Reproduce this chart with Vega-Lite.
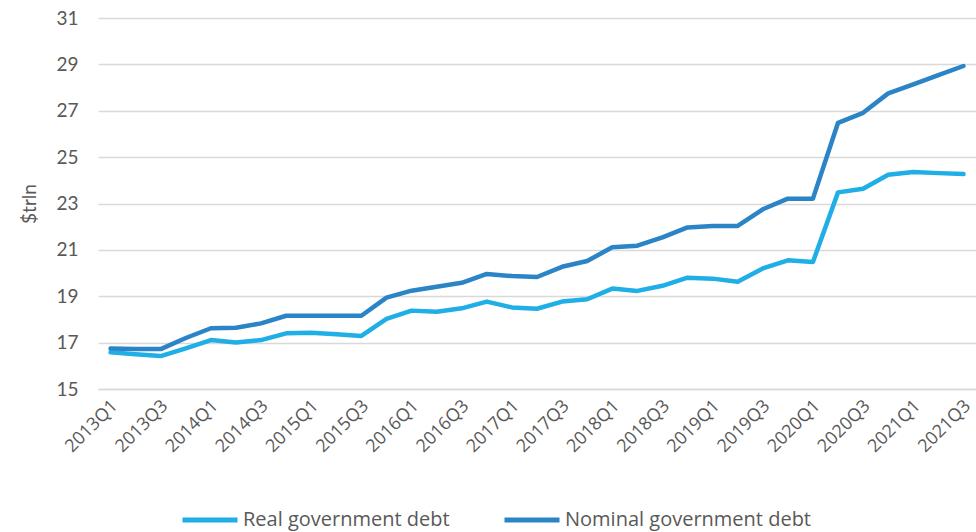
{
  "$schema": "https://vega.github.io/schema/vega-lite/v6.json",
  "width": 878,
  "height": 371,
  "autosize": {"type": "none"},
  "padding": {"left": 98, "top": 18, "right": 0, "bottom": 143},
  "background": "white",
  "config": {
    "view": {"stroke": null},
    "font": "Lato"
  },
  "datasets": {
    "debt": [
      {"q": "2013Q1", "Real government debt": 16.58, "Nominal government debt": 16.75},
      {"q": "2013Q2", "Real government debt": 16.5, "Nominal government debt": 16.73},
      {"q": "2013Q3", "Real government debt": 16.42, "Nominal government debt": 16.72},
      {"q": "2013Q4", "Real government debt": 16.75, "Nominal government debt": 17.2},
      {"q": "2014Q1", "Real government debt": 17.11, "Nominal government debt": 17.62},
      {"q": "2014Q2", "Real government debt": 17.01, "Nominal government debt": 17.64},
      {"q": "2014Q3", "Real government debt": 17.11, "Nominal government debt": 17.83},
      {"q": "2014Q4", "Real government debt": 17.4, "Nominal government debt": 18.16},
      {"q": "2015Q1", "Real government debt": 17.43, "Nominal government debt": 18.16},
      {"q": "2015Q2", "Real government debt": 17.36, "Nominal government debt": 18.16},
      {"q": "2015Q3", "Real government debt": 17.29, "Nominal government debt": 18.16},
      {"q": "2015Q4", "Real government debt": 18.02, "Nominal government debt": 18.94},
      {"q": "2016Q1", "Real government debt": 18.38, "Nominal government debt": 19.24},
      {"q": "2016Q2", "Real government debt": 18.33, "Nominal government debt": 19.41},
      {"q": "2016Q3", "Real government debt": 18.48, "Nominal government debt": 19.58},
      {"q": "2016Q4", "Real government debt": 18.77, "Nominal government debt": 19.96},
      {"q": "2017Q1", "Real government debt": 18.52, "Nominal government debt": 19.87},
      {"q": "2017Q2", "Real government debt": 18.46, "Nominal government debt": 19.83},
      {"q": "2017Q3", "Real government debt": 18.77, "Nominal government debt": 20.27},
      {"q": "2017Q4", "Real government debt": 18.87, "Nominal government debt": 20.52},
      {"q": "2018Q1", "Real government debt": 19.33, "Nominal government debt": 21.11},
      {"q": "2018Q2", "Real government debt": 19.23, "Nominal government debt": 21.18},
      {"q": "2018Q3", "Real government debt": 19.45, "Nominal government debt": 21.54},
      {"q": "2018Q4", "Real government debt": 19.8, "Nominal government debt": 21.97},
      {"q": "2019Q1", "Real government debt": 19.76, "Nominal government debt": 22.03},
      {"q": "2019Q2", "Real government debt": 19.63, "Nominal government debt": 22.03},
      {"q": "2019Q3", "Real government debt": 20.2, "Nominal government debt": 22.75},
      {"q": "2019Q4", "Real government debt": 20.55, "Nominal government debt": 23.21},
      {"q": "2020Q1", "Real government debt": 20.48, "Nominal government debt": 23.21},
      {"q": "2020Q2", "Real government debt": 23.48, "Nominal government debt": 26.48},
      {"q": "2020Q3", "Real government debt": 23.64, "Nominal government debt": 26.91},
      {"q": "2020Q4", "Real government debt": 24.24, "Nominal government debt": 27.75},
      {"q": "2021Q1", "Real government debt": 24.36, "Nominal government debt": 28.14},
      {"q": "2021Q2", "Real government debt": 24.31, "Nominal government debt": 28.54},
      {"q": "2021Q3", "Real government debt": 24.27, "Nominal government debt": 28.93}
    ]
  },
  "data": {"name": "debt"},
  "transform": [
    {"fold": ["Real government debt", "Nominal government debt"], "as": ["series", "value"]}
  ],
  "mark": {"type": "line", "strokeWidth": 4.5, "strokeCap": "round", "strokeJoin": "round"},
  "encoding": {
    "x": {
      "field": "q",
      "type": "ordinal",
      "sort": null,
      "scale": {"type": "point", "padding": 0.5},
      "axis": {
        "title": null,
        "labelAngle": -45,
        "labelAlign": "right",
        "labelBaseline": "middle",
        "labelFont": "Open Sans",
        "labelFontSize": 18,
        "labelColor": "#595959",
        "labelOverlap": false,
        "labelPadding": 14,
        "labelOffset": 4,
        "labelExpr": "test(/Q[13]$/, datum.value) ? datum.value : ''",
        "ticks": false,
        "domain": true,
        "domainColor": "#D9D9D9",
        "domainWidth": 1.5,
        "grid": false
      }
    },
    "y": {
      "field": "value",
      "type": "quantitative",
      "scale": {"domain": [15, 31], "nice": false, "zero": false},
      "axis": {
        "title": "$trln",
        "titleFontSize": 19,
        "titleFontWeight": "normal",
        "titleColor": "#595959",
        "titlePadding": 16,
        "values": [15, 17, 19, 21, 23, 25, 27, 29, 31],
        "labelFontSize": 19,
        "labelColor": "#595959",
        "labelPadding": 20,
        "ticks": false,
        "domain": false,
        "grid": true,
        "gridColor": "#D9D9D9",
        "gridWidth": 1.5
      }
    },
    "color": {
      "field": "series",
      "type": "nominal",
      "sort": ["Real government debt", "Nominal government debt"],
      "scale": {"domain": ["Real government debt", "Nominal government debt"], "range": ["#1FAEE6", "#2A84C6"]},
      "legend": {
        "title": null,
        "orient": "none",
        "direction": "horizontal",
        "legendX": 82,
        "legendY": 472,
        "symbolType": "stroke",
        "symbolSize": 3025,
        "symbolStrokeWidth": 5,
        "labelFont": "Open Sans",
        "labelFontSize": 20,
        "labelColor": "#595959",
        "labelOffset": 3,
        "columnPadding": 44,
        "labelLimit": 400
      }
    }
  }
}
